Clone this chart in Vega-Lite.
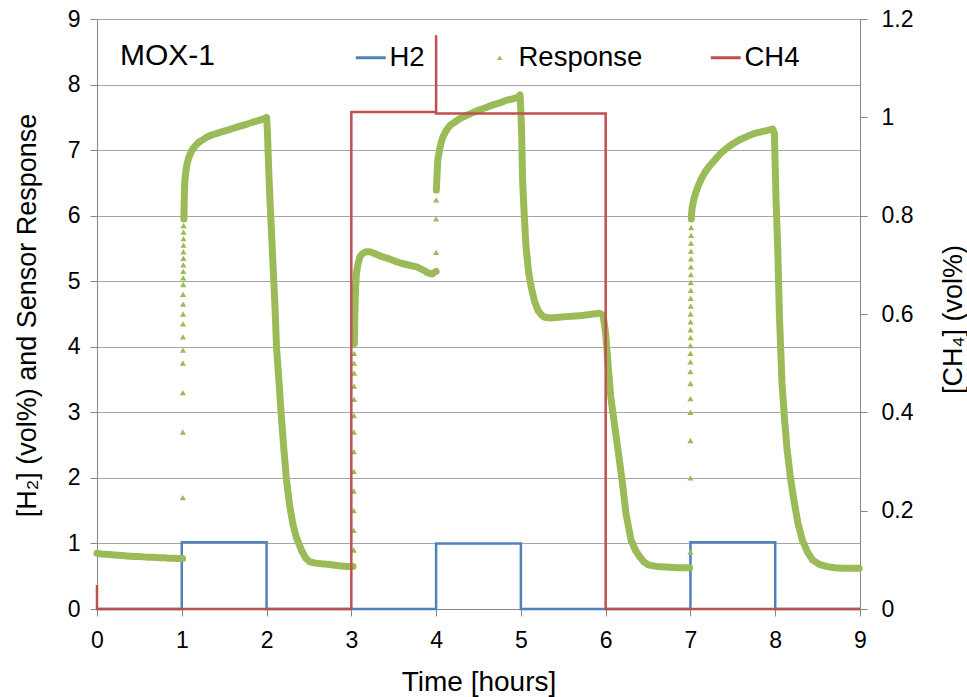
{
  "$schema": "https://vega.github.io/schema/vega-lite/v6.json",
  "width": 763,
  "height": 590,
  "autosize": {"type": "none"},
  "padding": {"left": 97, "top": 19, "right": 107, "bottom": 88},
  "background": "white",
  "config": {
    "view": {"stroke": null},
    "font": "Liberation Sans",
    "axis": {
      "labelFont": "Liberation Sans",
      "titleFont": "Liberation Sans",
      "labelColor": "#000000",
      "titleColor": "#000000",
      "titleFontWeight": "normal",
      "domainColor": "#868686",
      "tickColor": "#868686",
      "tickSize": 7,
      "gridColor": "#A6A6A6",
      "labelFontSize": 23,
      "titleFontSize": 27,
      "labelFlush": false
    }
  },
  "datasets": {
    "h2": [
      {"i": 0, "t": 0, "v": 0}, {"i": 1, "t": 1, "v": 0}, {"i": 2, "t": 1, "v": 1.02}, {"i": 3, "t": 2, "v": 1.02},
      {"i": 4, "t": 2, "v": 0}, {"i": 5, "t": 4, "v": 0}, {"i": 6, "t": 4, "v": 1.0}, {"i": 7, "t": 5, "v": 1.0},
      {"i": 8, "t": 5, "v": 0}, {"i": 9, "t": 7, "v": 0}, {"i": 10, "t": 7, "v": 1.02}, {"i": 11, "t": 8, "v": 1.02},
      {"i": 12, "t": 8, "v": 0}, {"i": 13, "t": 9, "v": 0}
    ],
    "ch4": [
      {"i": 0, "t": 0, "v": 0.049}, {"i": 1, "t": 0, "v": 0}, {"i": 2, "t": 3, "v": 0}, {"i": 3, "t": 3, "v": 1.011},
      {"i": 4, "t": 4, "v": 1.011}, {"i": 5, "t": 4, "v": 1.167}, {"i": 6, "t": 4, "v": 1.008}, {"i": 7, "t": 6, "v": 1.008},
      {"i": 8, "t": 6, "v": 0}, {"i": 9, "t": 9, "v": 0}
    ],
    "resp": [
      {"t": 0, "r": 0.85, "seg": "a"}, {"t": 0.05, "r": 0.84, "seg": "a"}, {"t": 0.1, "r": 0.835, "seg": "a"}, {"t": 0.15, "r": 0.83, "seg": "a"},
      {"t": 0.2, "r": 0.825, "seg": "a"}, {"t": 0.25, "r": 0.82, "seg": "a"}, {"t": 0.3, "r": 0.815, "seg": "a"}, {"t": 0.35, "r": 0.81, "seg": "a"},
      {"t": 0.4, "r": 0.805, "seg": "a"}, {"t": 0.45, "r": 0.8, "seg": "a"}, {"t": 0.5, "r": 0.8, "seg": "a"}, {"t": 0.55, "r": 0.795, "seg": "a"},
      {"t": 0.6, "r": 0.79, "seg": "a"}, {"t": 0.65, "r": 0.79, "seg": "a"}, {"t": 0.7, "r": 0.785, "seg": "a"}, {"t": 0.75, "r": 0.78, "seg": "a"},
      {"t": 0.8, "r": 0.78, "seg": "a"}, {"t": 0.85, "r": 0.775, "seg": "a"}, {"t": 0.9, "r": 0.775, "seg": "a"}, {"t": 0.95, "r": 0.77, "seg": "a"},
      {"t": 1.01, "r": 0.77, "seg": "a"},
      {"t": 1.012, "r": 1.7, "seg": "s"}, {"t": 1.012, "r": 2.7, "seg": "s"}, {"t": 1.013, "r": 3.3, "seg": "s"}, {"t": 1.013, "r": 3.75, "seg": "s"},
      {"t": 1.014, "r": 3.95, "seg": "s"}, {"t": 1.014, "r": 4.15, "seg": "s"}, {"t": 1.015, "r": 4.35, "seg": "s"}, {"t": 1.015, "r": 4.5, "seg": "s"},
      {"t": 1.016, "r": 4.65, "seg": "s"}, {"t": 1.016, "r": 4.8, "seg": "s"}, {"t": 1.017, "r": 4.95, "seg": "s"}, {"t": 1.017, "r": 5.05, "seg": "s"},
      {"t": 1.018, "r": 5.15, "seg": "s"}, {"t": 1.018, "r": 5.25, "seg": "s"}, {"t": 1.019, "r": 5.35, "seg": "s"}, {"t": 1.019, "r": 5.45, "seg": "s"},
      {"t": 1.02, "r": 5.55, "seg": "s"}, {"t": 1.02, "r": 5.65, "seg": "s"}, {"t": 1.021, "r": 5.75, "seg": "s"}, {"t": 1.021, "r": 5.85, "seg": "s"},
      {"t": 1.025, "r": 5.95, "seg": "b"}, {"t": 1.03, "r": 6.3, "seg": "b"}, {"t": 1.035, "r": 6.5, "seg": "b"}, {"t": 1.045, "r": 6.65, "seg": "b"},
      {"t": 1.055, "r": 6.74, "seg": "b"}, {"t": 1.065, "r": 6.8, "seg": "b"}, {"t": 1.08, "r": 6.88, "seg": "b"}, {"t": 1.1, "r": 6.94, "seg": "b"},
      {"t": 1.13, "r": 7.02, "seg": "b"}, {"t": 1.17, "r": 7.08, "seg": "b"}, {"t": 1.2, "r": 7.12, "seg": "b"}, {"t": 1.25, "r": 7.16, "seg": "b"},
      {"t": 1.3, "r": 7.2, "seg": "b"}, {"t": 1.35, "r": 7.23, "seg": "b"}, {"t": 1.4, "r": 7.25, "seg": "b"}, {"t": 1.45, "r": 7.27, "seg": "b"},
      {"t": 1.5, "r": 7.29, "seg": "b"}, {"t": 1.55, "r": 7.31, "seg": "b"}, {"t": 1.6, "r": 7.33, "seg": "b"}, {"t": 1.65, "r": 7.35, "seg": "b"},
      {"t": 1.7, "r": 7.37, "seg": "b"}, {"t": 1.75, "r": 7.39, "seg": "b"}, {"t": 1.8, "r": 7.41, "seg": "b"}, {"t": 1.85, "r": 7.43, "seg": "b"},
      {"t": 1.9, "r": 7.45, "seg": "b"}, {"t": 1.95, "r": 7.47, "seg": "b"}, {"t": 1.99, "r": 7.49, "seg": "b"}, {"t": 2.0, "r": 7.5, "seg": "b"},
      {"t": 2.01, "r": 7.3, "seg": "b"}, {"t": 2.02, "r": 6.9, "seg": "b"}, {"t": 2.03, "r": 6.55, "seg": "b"}, {"t": 2.04, "r": 6.24, "seg": "b"},
      {"t": 2.06, "r": 5.7, "seg": "b"}, {"t": 2.077, "r": 5.22, "seg": "b"}, {"t": 2.1, "r": 4.6, "seg": "b"}, {"t": 2.117, "r": 4.0, "seg": "b"},
      {"t": 2.15, "r": 3.4, "seg": "b"}, {"t": 2.175, "r": 2.93, "seg": "b"}, {"t": 2.2, "r": 2.5, "seg": "b"}, {"t": 2.235, "r": 1.97, "seg": "b"},
      {"t": 2.27, "r": 1.6, "seg": "b"}, {"t": 2.31, "r": 1.3, "seg": "b"}, {"t": 2.35, "r": 1.1, "seg": "b"}, {"t": 2.41, "r": 0.9, "seg": "b"},
      {"t": 2.46, "r": 0.78, "seg": "b"}, {"t": 2.51, "r": 0.72, "seg": "b"}, {"t": 2.58, "r": 0.7, "seg": "b"}, {"t": 2.65, "r": 0.69, "seg": "b"},
      {"t": 2.75, "r": 0.68, "seg": "b"}, {"t": 2.85, "r": 0.66, "seg": "b"}, {"t": 2.95, "r": 0.65, "seg": "b"}, {"t": 3.02, "r": 0.65, "seg": "b"},
      {"t": 3.028, "r": 0.9, "seg": "s"}, {"t": 3.028, "r": 1.2, "seg": "s"}, {"t": 3.029, "r": 1.5, "seg": "s"}, {"t": 3.029, "r": 1.8, "seg": "s"},
      {"t": 3.03, "r": 2.1, "seg": "s"}, {"t": 3.03, "r": 2.4, "seg": "s"}, {"t": 3.031, "r": 2.7, "seg": "s"}, {"t": 3.031, "r": 2.95, "seg": "s"},
      {"t": 3.032, "r": 3.2, "seg": "s"}, {"t": 3.032, "r": 3.4, "seg": "s"}, {"t": 3.033, "r": 3.6, "seg": "s"}, {"t": 3.033, "r": 3.75, "seg": "s"},
      {"t": 3.034, "r": 3.9, "seg": "s"},
      {"t": 3.036, "r": 4.05, "seg": "c"}, {"t": 3.04, "r": 4.4, "seg": "c"}, {"t": 3.045, "r": 4.7, "seg": "c"}, {"t": 3.05, "r": 4.9, "seg": "c"},
      {"t": 3.06, "r": 5.12, "seg": "c"}, {"t": 3.08, "r": 5.27, "seg": "c"}, {"t": 3.1, "r": 5.37, "seg": "c"}, {"t": 3.13, "r": 5.42, "seg": "c"},
      {"t": 3.17, "r": 5.45, "seg": "c"}, {"t": 3.22, "r": 5.45, "seg": "c"}, {"t": 3.28, "r": 5.42, "seg": "c"}, {"t": 3.35, "r": 5.38, "seg": "c"},
      {"t": 3.45, "r": 5.34, "seg": "c"}, {"t": 3.53, "r": 5.3, "seg": "c"}, {"t": 3.6, "r": 5.27, "seg": "c"}, {"t": 3.7, "r": 5.24, "seg": "c"},
      {"t": 3.77, "r": 5.22, "seg": "c"}, {"t": 3.85, "r": 5.17, "seg": "c"}, {"t": 3.9, "r": 5.13, "seg": "c"}, {"t": 3.95, "r": 5.11, "seg": "c"},
      {"t": 4.0, "r": 5.15, "seg": "c"},
      {"t": 4.0, "r": 5.44, "seg": "s"}, {"t": 4.0, "r": 5.95, "seg": "s"}, {"t": 4.001, "r": 6.24, "seg": "s"},
      {"t": 4.003, "r": 6.39, "seg": "d"}, {"t": 4.01, "r": 6.6, "seg": "d"}, {"t": 4.02, "r": 6.85, "seg": "d"}, {"t": 4.04, "r": 7.0, "seg": "d"},
      {"t": 4.06, "r": 7.12, "seg": "d"}, {"t": 4.08, "r": 7.2, "seg": "d"}, {"t": 4.12, "r": 7.3, "seg": "d"}, {"t": 4.16, "r": 7.37, "seg": "d"},
      {"t": 4.2, "r": 7.41, "seg": "d"}, {"t": 4.28, "r": 7.48, "seg": "d"}, {"t": 4.36, "r": 7.53, "seg": "d"}, {"t": 4.45, "r": 7.58, "seg": "d"},
      {"t": 4.52, "r": 7.62, "seg": "d"}, {"t": 4.59, "r": 7.65, "seg": "d"}, {"t": 4.67, "r": 7.69, "seg": "d"}, {"t": 4.75, "r": 7.72, "seg": "d"},
      {"t": 4.83, "r": 7.76, "seg": "d"}, {"t": 4.9, "r": 7.78, "seg": "d"}, {"t": 4.96, "r": 7.8, "seg": "d"}, {"t": 4.99, "r": 7.84, "seg": "d"},
      {"t": 5.0, "r": 7.6, "seg": "d"}, {"t": 5.01, "r": 7.2, "seg": "d"}, {"t": 5.02, "r": 6.54, "seg": "d"}, {"t": 5.04, "r": 6.0, "seg": "d"},
      {"t": 5.06, "r": 5.53, "seg": "d"}, {"t": 5.09, "r": 5.15, "seg": "d"}, {"t": 5.12, "r": 4.92, "seg": "d"}, {"t": 5.16, "r": 4.7, "seg": "d"},
      {"t": 5.2, "r": 4.56, "seg": "d"}, {"t": 5.24, "r": 4.49, "seg": "d"}, {"t": 5.28, "r": 4.45, "seg": "d"}, {"t": 5.35, "r": 4.44, "seg": "d"},
      {"t": 5.45, "r": 4.45, "seg": "d"}, {"t": 5.53, "r": 4.46, "seg": "d"}, {"t": 5.65, "r": 4.47, "seg": "d"}, {"t": 5.75, "r": 4.48, "seg": "d"},
      {"t": 5.85, "r": 4.5, "seg": "d"}, {"t": 5.93, "r": 4.51, "seg": "d"}, {"t": 5.97, "r": 4.48, "seg": "d"}, {"t": 6.0, "r": 4.2, "seg": "d"},
      {"t": 6.03, "r": 3.7, "seg": "d"}, {"t": 6.06, "r": 3.24, "seg": "d"}, {"t": 6.1, "r": 2.85, "seg": "d"}, {"t": 6.14, "r": 2.48, "seg": "d"},
      {"t": 6.2, "r": 1.9, "seg": "d"}, {"t": 6.24, "r": 1.45, "seg": "d"}, {"t": 6.27, "r": 1.25, "seg": "d"}, {"t": 6.3, "r": 1.05, "seg": "d"},
      {"t": 6.35, "r": 0.9, "seg": "d"}, {"t": 6.4, "r": 0.8, "seg": "d"}, {"t": 6.45, "r": 0.72, "seg": "d"}, {"t": 6.51, "r": 0.67, "seg": "d"},
      {"t": 6.6, "r": 0.65, "seg": "d"}, {"t": 6.71, "r": 0.64, "seg": "d"}, {"t": 6.85, "r": 0.63, "seg": "d"}, {"t": 6.99, "r": 0.63, "seg": "d"},
      {"t": 7.0, "r": 0.87, "seg": "s"}, {"t": 7.0, "r": 2.0, "seg": "s"}, {"t": 7.0, "r": 2.57, "seg": "s"}, {"t": 7.0, "r": 3.0, "seg": "s"},
      {"t": 7.0, "r": 3.21, "seg": "s"}, {"t": 7.0, "r": 3.44, "seg": "s"}, {"t": 7.0, "r": 3.62, "seg": "s"}, {"t": 7.0, "r": 3.77, "seg": "s"},
      {"t": 7.0, "r": 3.9, "seg": "s"}, {"t": 7.0, "r": 4.02, "seg": "s"}, {"t": 7.001, "r": 4.14, "seg": "s"}, {"t": 7.001, "r": 4.26, "seg": "s"},
      {"t": 7.002, "r": 4.38, "seg": "s"}, {"t": 7.002, "r": 4.5, "seg": "s"}, {"t": 7.003, "r": 4.62, "seg": "s"}, {"t": 7.003, "r": 4.74, "seg": "s"},
      {"t": 7.004, "r": 4.86, "seg": "s"}, {"t": 7.004, "r": 4.98, "seg": "s"}, {"t": 7.005, "r": 5.1, "seg": "s"}, {"t": 7.005, "r": 5.22, "seg": "s"},
      {"t": 7.006, "r": 5.34, "seg": "s"}, {"t": 7.006, "r": 5.46, "seg": "s"}, {"t": 7.007, "r": 5.58, "seg": "s"}, {"t": 7.008, "r": 5.7, "seg": "s"},
      {"t": 7.009, "r": 5.82, "seg": "s"},
      {"t": 7.01, "r": 5.95, "seg": "e"}, {"t": 7.015, "r": 6.05, "seg": "e"}, {"t": 7.02, "r": 6.12, "seg": "e"}, {"t": 7.04, "r": 6.25, "seg": "e"},
      {"t": 7.06, "r": 6.34, "seg": "e"}, {"t": 7.09, "r": 6.45, "seg": "e"}, {"t": 7.12, "r": 6.54, "seg": "e"}, {"t": 7.17, "r": 6.66, "seg": "e"},
      {"t": 7.22, "r": 6.75, "seg": "e"}, {"t": 7.3, "r": 6.87, "seg": "e"}, {"t": 7.38, "r": 6.98, "seg": "e"}, {"t": 7.47, "r": 7.07, "seg": "e"},
      {"t": 7.57, "r": 7.15, "seg": "e"}, {"t": 7.67, "r": 7.21, "seg": "e"}, {"t": 7.77, "r": 7.26, "seg": "e"}, {"t": 7.87, "r": 7.29, "seg": "e"},
      {"t": 7.97, "r": 7.32, "seg": "e"}, {"t": 7.99, "r": 7.26, "seg": "e"}, {"t": 8.01, "r": 6.24, "seg": "e"}, {"t": 8.03, "r": 5.48, "seg": "e"},
      {"t": 8.05, "r": 4.46, "seg": "e"}, {"t": 8.08, "r": 3.44, "seg": "e"}, {"t": 8.11, "r": 2.9, "seg": "e"}, {"t": 8.14, "r": 2.43, "seg": "e"},
      {"t": 8.18, "r": 2.0, "seg": "e"}, {"t": 8.22, "r": 1.66, "seg": "e"}, {"t": 8.27, "r": 1.3, "seg": "e"}, {"t": 8.32, "r": 1.05, "seg": "e"},
      {"t": 8.38, "r": 0.87, "seg": "e"}, {"t": 8.44, "r": 0.75, "seg": "e"}, {"t": 8.52, "r": 0.68, "seg": "e"}, {"t": 8.6, "r": 0.65, "seg": "e"},
      {"t": 8.7, "r": 0.63, "seg": "e"}, {"t": 8.8, "r": 0.62, "seg": "e"}, {"t": 8.9, "r": 0.62, "seg": "e"}, {"t": 8.99, "r": 0.62, "seg": "e"}
    ]
  },
  "layer": [
    {
      "layer": [
        {
          "data": {"name": "h2"},
          "mark": {"type": "line", "strokeWidth": 2.5},
          "encoding": {
            "x": {"field": "t", "type": "quantitative", "scale": {"domain": [0, 9], "nice": false},
              "axis": {"values": [0, 1, 2, 3, 4, 5, 6, 7, 8, 9], "format": "d", "grid": false, "title": "Time [hours]", "titleFontSize": 28, "labelPadding": 13, "titlePadding": 16}},
            "y": {"field": "v", "type": "quantitative", "scale": {"domain": [0, 9], "nice": false},
              "axis": {"values": [0, 1, 2, 3, 4, 5, 6, 7, 8, 9], "format": "d", "grid": true, "title": "[H₂] (vol%) and Sensor Response",
                "labelPadding": 10, "titleX": -62, "titleY": 296, "titleAngle": -90, "titleBaseline": "alphabetic", "titleAlign": "center"}},
            "order": {"field": "i"},
            "color": {"datum": "H2",
              "scale": {"domain": ["H2", "Response", "CH4"], "range": ["#4F81BD", "#9BBB59", "#C0504D"]},
              "legend": {
                "orient": "none", "legendX": 260, "legendY": 25, "direction": "horizontal", "title": null,
                "labelFont": "Liberation Sans", "labelFontSize": 27.5, "labelColor": "#000000",
                "symbolType": "stroke", "symbolSize": 900, "symbolStrokeWidth": 3,
                "columnPadding": 61, "labelOffset": 5, "padding": 0, "gridAlign": "none",
                "encode": {"symbols": {"update": {
                  "shape": {"signal": "datum.value === 'Response' ? 'triangle-up' : 'stroke'"},
                  "size": {"signal": "datum.value === 'Response' ? 30 : 900"},
                  "strokeWidth": {"signal": "datum.value === 'Response' ? 0 : 3"},
                  "fill": {"scale": "color", "field": "value"},
                  "stroke": {"scale": "color", "field": "value"},
                  "opacity": {"value": 1}
                }}}
              }
            }
          }
        },
        {
          "data": {"name": "resp"},
          "transform": [{"filter": {"not": {"field": "seg", "equal": "s"}}}],
          "mark": {"type": "line", "strokeWidth": 7, "strokeJoin": "round", "strokeCap": "round"},
          "encoding": {
            "x": {"field": "t", "type": "quantitative"},
            "y": {"field": "r", "type": "quantitative"},
            "detail": {"field": "seg"},
            "color": {"datum": "Response"}
          }
        },
        {
          "data": {"name": "resp"},
          "mark": {"type": "point", "shape": "triangle-up", "filled": true, "size": 38, "opacity": 1},
          "encoding": {
            "x": {"field": "t", "type": "quantitative"},
            "y": {"field": "r", "type": "quantitative"},
            "color": {"datum": "Response"}
          }
        },
        {
          "data": {"values": [{"label": "MOX-1", "t": 0.27, "v": 8.44}]},
          "mark": {"type": "text", "align": "left", "baseline": "middle", "fontSize": 30, "font": "Liberation Sans", "color": "#000000"},
          "encoding": {
            "x": {"field": "t", "type": "quantitative"},
            "y": {"field": "v", "type": "quantitative"},
            "text": {"field": "label"}
          }
        }
      ]
    },
    {
      "data": {"name": "ch4"},
      "mark": {"type": "line", "strokeWidth": 2.5},
      "encoding": {
        "x": {"field": "t", "type": "quantitative"},
        "y": {"field": "v", "type": "quantitative", "scale": {"domain": [0, 1.2], "nice": false},
          "axis": {"orient": "right", "values": [0, 0.2, 0.4, 0.6, 0.8, 1, 1.2], "format": "~g", "grid": false,
            "title": "[CH₄] (vol%)", "labelPadding": 14,
            "titleX": 101, "titleY": 300, "titleAngle": -90, "titleBaseline": "alphabetic", "titleAlign": "center"}},
        "order": {"field": "i"},
        "color": {"datum": "CH4"}
      }
    }
  ],
  "resolve": {"scale": {"y": "independent"}}
}
